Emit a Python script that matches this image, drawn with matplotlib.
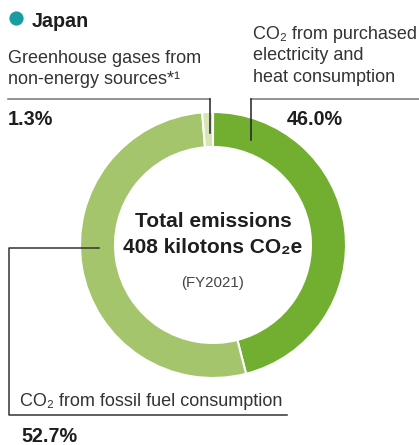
import matplotlib.pyplot as plt

# share of total emissions (%), clockwise from 12 o'clock
categories = ['CO\u2082 from purchased\nelectricity and\nheat consumption',
              'CO\u2082 from fossil fuel consumption',
              'Greenhouse gases from\nnon-energy sources*\u00b9']
shares = [46.0, 52.7, 1.3]
colors = ['#72ae2f', '#a5c56c', '#d5e5b6']
total_kt = 408
fiscal_year = 'FY2021'
region = 'Japan'

plt.rcParams['font.family'] = ['Liberation Sans', 'DejaVu Sans']

fig = plt.figure(figsize=(4.19, 4.45), dpi=100)
ax = fig.add_axes([0, 0, 1, 1])

# donut (y axis is flipped, so counterclock=True draws clockwise on screen)
ax.pie(shares, colors=colors, startangle=-90, counterclock=True,
       center=(213, 245), radius=133, frame=True,
       wedgeprops=dict(width=35, edgecolor='white', linewidth=1.5))
ax.set_xlim(0, 419)
ax.set_ylim(445, 0)
ax.set_aspect('equal')
ax.axis('off')

txt = '#1e1e1e'
body = '#333333'


def lines(x, y0, s, step, **kw):
    for i, ln in enumerate(s.split('\n')):
        ax.text(x, y0 + i * step, ln, va='baseline', **kw)


# header
ax.scatter([16], [18], s=105, color='#1a9ca3', zorder=5, linewidths=0)
ax.text(32, 27, region, fontsize=14.2, fontweight='bold', color=txt,
        va='baseline')

# center text
ax.text(213, 227, 'Total emissions', fontsize=15, fontweight='bold',
        color=txt, ha='center', va='baseline')
ax.text(213, 253, f'{total_kt} kilotons CO\u2082e', fontsize=15,
        fontweight='bold', color=txt, ha='center', va='baseline')
ax.text(213, 287, f'({fiscal_year})', fontsize=10.8, color='#444444',
        ha='center', va='baseline')

# labels
lines(8, 63, categories[2], 20.5, fontsize=13, color=body)
ax.text(8, 125, f'{shares[2]:.1f}%', fontsize=14.2, fontweight='bold',
        color=txt, va='baseline')

lines(253, 39, categories[0], 21.5, fontsize=13, color=body)
ax.text(287, 125, f'{shares[0]:.1f}%', fontsize=14.2, fontweight='bold',
        color=txt, va='baseline')

lines(20, 406, categories[1], 20, fontsize=13, color=body)
ax.text(21, 442, f'{shares[1]:.1f}%', fontsize=14.2, fontweight='bold',
        color=txt, va='baseline')

# leader lines
lw = 1.1
ax.plot([8, 210], [99, 99], color='#777777', lw=lw)
ax.plot([210, 210], [99, 133], color='#222222', lw=lw)
ax.plot([251, 419], [99, 99], color='#777777', lw=lw)
ax.plot([251, 251], [99, 140], color='#222222', lw=lw)
ax.plot([99, 9, 9, 287], [248, 248, 415, 415], color='#333333', lw=lw)

fig.savefig('out.png', dpi=100)
